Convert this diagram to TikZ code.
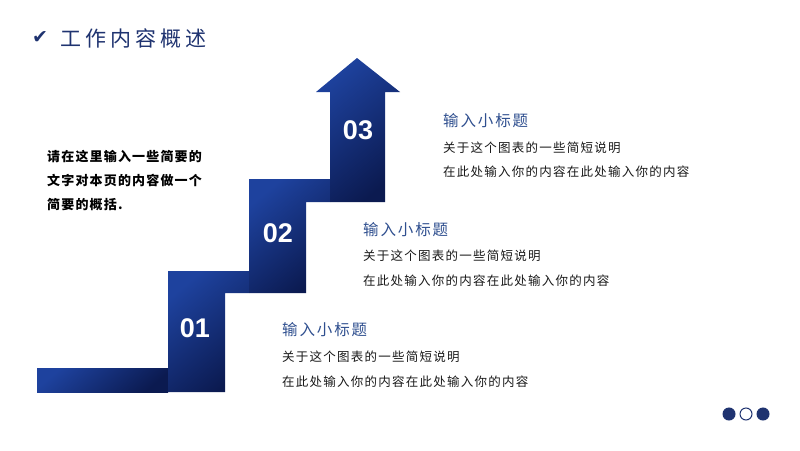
\documentclass[tikz,border=0pt]{standalone}
\usepackage{fontspec}
\setmainfont{Liberation Sans}
\newfontfamily\cjkhead[LetterSpace=19]{Noto Sans CJK SC}
\newfontfamily\cjktitle[LetterSpace=12]{Noto Sans CJK SC}
\newfontfamily\cjkbody[LetterSpace=10]{Noto Sans CJK SC}
\newfontfamily\cjklead[LetterSpace=9]{Noto Sans CJK SC}
\newfontfamily\symfont{DejaVu Sans}
\usetikzlibrary{positioning}
\definecolor{navy}{HTML}{1F3370}
\definecolor{stairlight}{HTML}{1E429E}
\definecolor{stairdark}{HTML}{0B1A50}
\definecolor{titleblue}{HTML}{2F4F8F}
\definecolor{bodygray}{HTML}{1A1A1A}

\begin{document}
\begin{tikzpicture}[
      x=1pt, y=-1pt,
      every node/.style={inner sep=0pt},
      stair/.style={top color=stairlight, bottom color=stairdark, shading angle=40},
      num/.style={text=white, font=\fontsize{27}{30}\selectfont\bfseries},
      subtitle/.style={anchor=west, text=titleblue, font=\cjktitle\fontsize{15.5}{18}\selectfont},
      desc/.style={anchor=west, text=bodygray, font=\cjkbody\fontsize{12.5}{14}\selectfont},
      dot/.style={circle, minimum size=12pt, draw=navy, line width=1pt}
    ]
    \useasboundingbox[fill=white] (0,0) rectangle (800,450);

    % header
    \node[anchor=west, text=navy, font=\symfont\fontsize{19}{22}\selectfont] (chk) at (32,38) {✔};
    \node[right=12pt of chk, text=navy, font=\cjkhead\fontsize{21}{24}\selectfont] (head) {工作内容概述};

    % staircase
    \shade[stair] (37,368) rectangle (168,392);
    \shade[stair] (168,271) -- (249,271) -- (249,293) -- (225,293) -- (225,392) -- (168,392) -- cycle;
    \shade[stair] (249,179) -- (330,179) -- (330,202) -- (306,202) -- (306,293) -- (249,293) -- cycle;
    \shade[stair] (330,92) -- (316,92) -- (357,58) -- (400,92) -- (385,92) -- (385,202) -- (330,202) -- cycle;
    \node[num] (n1) at (195,328) {01};
    \node[num] (n2) at (278,233) {02};
    \node[num] (n3) at (358,130) {03};

    % lead text
    \node[anchor=west, align=left, text=black, font=\cjklead\fontsize{13}{24}\selectfont\bfseries] (lead) at (47,181)
      {请在这里输入一些简要的\\文字对本页的内容做一个\\简要的概括.};

    % step texts
    \node[subtitle] (t3) at (443,121) {输入小标题};
    \node[desc, below=27pt of t3.west, anchor=west] (d3a) {关于这个图表的一些简短说明};
    \node[desc, below=24pt of d3a.west, anchor=west] (d3b) {在此处输入你的内容在此处输入你的内容};
    \node[subtitle] (t2) at (363,230) {输入小标题};
    \node[desc, below=26pt of t2.west, anchor=west] (d2a) {关于这个图表的一些简短说明};
    \node[desc, below=25pt of d2a.west, anchor=west] (d2b) {在此处输入你的内容在此处输入你的内容};
    \node[subtitle] (t1) at (282,330) {输入小标题};
    \node[desc, below=27pt of t1.west, anchor=west] (d1a) {关于这个图表的一些简短说明};
    \node[desc, below=25pt of d1a.west, anchor=west] (d1b) {在此处输入你的内容在此处输入你的内容};

    % page dots
    \node[dot, fill=navy] (dotA) at (729,414) {};
    \node[dot, fill=white] (dotB) at (746,414) {};
    \node[dot, fill=navy] (dotC) at (763,414) {};
  \end{tikzpicture}
\end{document}
